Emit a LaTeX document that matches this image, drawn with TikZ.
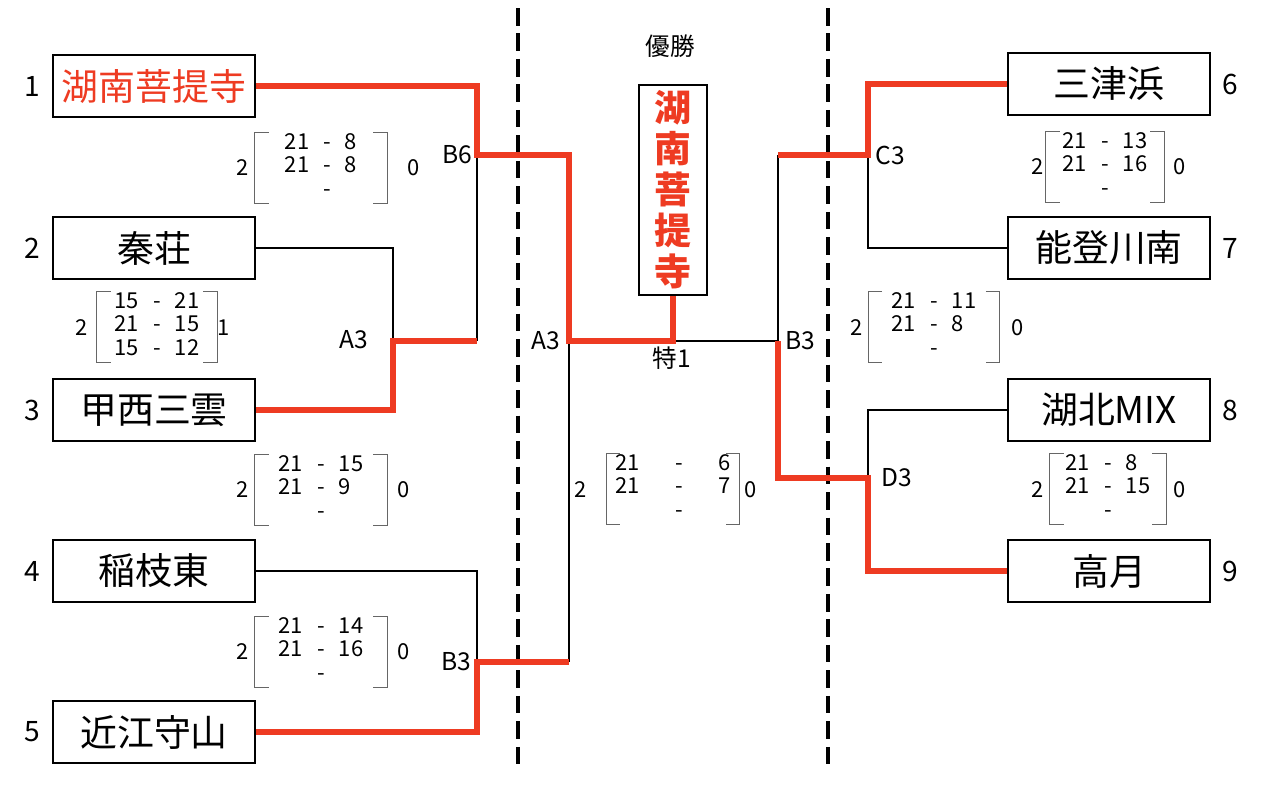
\documentclass[tikz,border=0pt]{standalone}
\usepackage{fontspec}
\setmainfont{Noto Sans CJK JP}
\definecolor{winred}{HTML}{EE3B22}
\setlength{\tabcolsep}{4pt}
\newcommand\scorebrackets[1]{%
  \draw[bracket] ([xshift=8pt]#1.north west) -| (#1.south west) -- ++(8pt,0);
  \draw[bracket] ([xshift=-8pt]#1.north east) -| (#1.south east) -- ++(-8pt,0);}

\begin{document}
\begin{tikzpicture}[x=0.02cm,y=-0.02cm,
    team/.style={draw=black,line width=1.6pt,minimum width=4.04cm,minimum height=1.24cm,inner sep=0pt,font=\fontsize{21}{21}\selectfont},
    seed/.style={font=\fontsize{16}{16}\selectfont},
    tag/.style={font=\fontsize{14}{14}\selectfont,inner sep=1pt},
    score/.style={font=\fontsize{12.5}{13.3}\selectfont,inner sep=0pt,minimum height=1.36cm},
    sets/.style={font=\fontsize{12.5}{12.5}\selectfont,inner sep=0pt},
    bracket/.style={line width=0.6pt,black!60},
    lose/.style={line width=1.3pt,black},
    win/.style={line width=3.4pt,winred}]
    \useasboundingbox (0,0) rectangle (1274,785);

    % separators
    \draw[line width=2.3pt,dash pattern=on 10pt off 4.5pt] (518,8) -- (518,765);
    \draw[line width=2.3pt,dash pattern=on 10pt off 4.5pt] (828,8) -- (828,765);

    \node[team,text=winred] (t1) at (154,86) {湖南菩提寺};
    \node[team] (t2) at (154,248) {秦荘};
    \node[team] (t3) at (154,410) {甲西三雲};
    \node[team] (t4) at (154,571) {稲枝東};
    \node[team] (t5) at (154,732) {近江守山};
    \node[team] (t6) at (1109,84) {三津浜};
    \node[team] (t7) at (1109,248) {能登川南};
    \node[team] (t8) at (1109,410) {湖北MIX};
    \node[team] (t9) at (1109,571) {高月};

    \node[seed] (n1) at (32,86) {1};
    \node[seed] (n2) at (32,248) {2};
    \node[seed] (n3) at (32,410) {3};
    \node[seed] (n4) at (32,571) {4};
    \node[seed] (n5) at (32,732) {5};
    \node[seed] (n6) at (1230,84) {6};
    \node[seed] (n7) at (1230,248) {7};
    \node[seed] (n8) at (1230,410) {8};
    \node[seed] (n9) at (1230,571) {9};

    \node[tag] (win) at (670,46) {優勝};
    \node[draw=black,line width=1.3pt,minimum width=1.36cm,minimum height=4.2cm,inner sep=0pt,align=center,text=winred,font=\bfseries\fontsize{21}{23.3}\selectfont] (champ) at (673,190) {湖\\南\\菩\\提\\寺};

    \coordinate (b6) at (477,155);
    \coordinate (a3) at (393,341);
    \coordinate (ja) at (477,341);
    \coordinate (b3) at (477,662);
    \coordinate (fa) at (569,341);
    \coordinate (fq) at (569,662);
    \coordinate (mid) at (672,341);
    \coordinate (fb) at (778,341);
    \coordinate (fc) at (778,155);
    \coordinate (c3) at (868,155);
    \coordinate (d3) at (868,478);

    \draw[lose] (t2.east) -| (a3);
    \draw[lose] (b6) -- (ja);
    \draw[lose] (t4.east) -| (b3);
    \draw[lose] (fa) -- (fq);
    \draw[lose] (mid) -- (fb) -- (fc);
    \draw[lose] (c3) |- (t7.west);
    \draw[lose] (d3) |- (t8.west);

    \draw[win] (t1.east) -| (b6) -| (fa) -| (champ.south);
    \draw[win] (t3.east) -| (a3) -- (ja);
    \draw[win] (t5.east) -| (b3) -- (fq);
    \draw[win] (fc) -- (c3) |- (t6.west);
    \draw[win] (fb) |- (d3) |- (t9.west);

    \node[tag] (lb6) at (457,155) {B6};
    \node[tag] (la3) at (354,340) {A3};
    \node[tag] (lb3) at (456,662) {B3};
    \node[tag] (lfa) at (546,341) {A3};
    \node[tag] (lfb) at (800,341) {B3};
    \node[tag] (lc3) at (890,155) {C3};
    \node[tag] (ld3) at (897,478) {D3};
    \node[tag] (lf) at (672,358) {特1};

    % scores
    \node[score,minimum width=2.64cm] (s1) at (321,168) {\begin{tabular}{@{}lcl@{}}21&-&8\\21&-&8\\&-&\end{tabular}};
    \node[score,minimum width=2.4cm] (s2) at (157,327) {\begin{tabular}{@{}lcl@{}}15&-&21\\21&-&15\\15&-&12\end{tabular}};
    \node[score,minimum width=2.64cm] (s3) at (321,490) {\begin{tabular}{@{}lcl@{}}21&-&15\\21&-&9\\&-&\end{tabular}};
    \node[score,minimum width=2.64cm] (s4) at (321,652) {\begin{tabular}{@{}lcl@{}}21&-&14\\21&-&16\\&-&\end{tabular}};
    \node[score,minimum width=2.66cm] (s5) at (673,489) {\setlength{\tabcolsep}{10pt}\begin{tabular}{@{}lcr@{}}21&-&6\\21&-&7\\&-&\end{tabular}};
    \node[score,minimum width=2.36cm] (s6) at (1105,167) {\begin{tabular}{@{}lcl@{}}21&-&13\\21&-&16\\&-&\end{tabular}};
    \node[score,minimum width=2.62cm] (s7) at (934,327) {\begin{tabular}{@{}lcl@{}}21&-&11\\21&-&8\\&-&\end{tabular}};
    \node[score,minimum width=2.32cm] (s8) at (1108,489) {\begin{tabular}{@{}lcl@{}}21&-&8\\21&-&15\\&-&\end{tabular}};
    \scorebrackets{s1} \scorebrackets{s2} \scorebrackets{s3} \scorebrackets{s4}
    \scorebrackets{s5} \scorebrackets{s6} \scorebrackets{s7} \scorebrackets{s8}

    \node[sets] (w1) at (243,168) {2};
    \node[sets] (l1) at (414,168) {0};
    \node[sets] (w2) at (82,328) {2};
    \node[sets] (l2) at (224,328) {1};
    \node[sets] (w3) at (243,490) {2};
    \node[sets] (l3) at (404,490) {0};
    \node[sets] (w4) at (243,652) {2};
    \node[sets] (l4) at (404,652) {0};
    \node[sets] (w5) at (581,490) {2};
    \node[sets] (l5) at (751,490) {0};
    \node[sets] (w6) at (1038,167) {2};
    \node[sets] (l6) at (1180,167) {0};
    \node[sets] (w7) at (857,328) {2};
    \node[sets] (l7) at (1018,328) {0};
    \node[sets] (w8) at (1038,490) {2};
    \node[sets] (l8) at (1180,490) {0};
\end{tikzpicture}
\end{document}
